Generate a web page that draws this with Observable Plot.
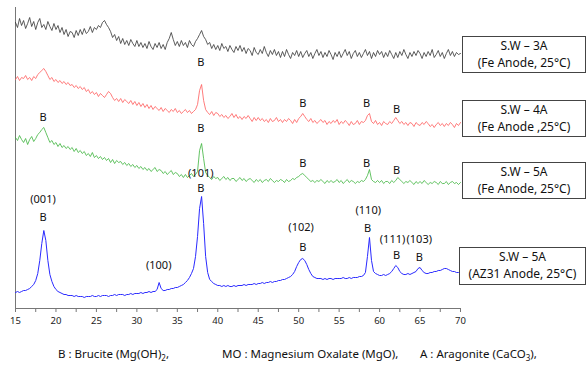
<!DOCTYPE html>
<html><head><meta charset="utf-8">
<script src="https://cdn.jsdelivr.net/npm/d3@7"></script>
<script src="https://cdn.jsdelivr.net/npm/@observablehq/plot@0.6"></script>
<style>
html,body{margin:0;padding:0;background:#fff;}
#wrap{position:relative;width:586px;height:367px;font-family:"Noto Sans",sans-serif;overflow:hidden;}
.lg{position:absolute;border:1px solid #444;box-sizing:border-box;background:#fff;text-align:center;font-size:12px;line-height:16.5px;color:#111;padding-top:1px;}
.cp{position:absolute;top:346px;font-size:11.5px;line-height:16px;color:#111;white-space:nowrap;}
.cp sub{font-size:8px;line-height:0;}
</style></head>
<body><div id="wrap"></div>
<script>
// 2θ grid (degrees)
const twoTheta = d3.range(15, 70.001, 0.25);
// intensities (arbitrary, offset)
const sw3A = [
286,281,290,283, 288,280,285,291, 282,287,279,286, 290,281,284,279, 287,282,278,285,
279,283,276,281, 274,279,272,277, 276,271,278,273, 279,274,280,275, 277,282,276,281,
279,283,281,286, 288,284,281,277, 271,274,268,272, 265,270,264,268, 263,269,265,262,
268,262,266,261, 265,260,267,262, 259,265,261,266, 260,264,259,266, 270,276,269,263,
267,262,268,263, 266,261,268,264, 262,267,270,274, 278,272,269,264, 266,260,264,259,
263,258,265,260, 262,257,263,259, 256,262,258,263, 257,261,255,260, 258,253,261,256,
254,259,255,262, 256,252,258,254, 259,253,257,251, 257,252,259,254, 250,256,253,258,
252,257,251,255, 258,252,256,250, 255,259,253,257, 251,256,252,258, 254,249,256,252,
257,251,255,259, 253,257,250,255, 258,252,256,251, 255,259,253,257, 250,256,252,258,
254,257,251,256, 252,258,254,250, 256,251,257,253, 259,254,250,256, 252,257,253,258,
255,250,256,252, 257,253,259,251, 254,258,252,256, 250,255,259,253, 257,252,256,254,
255];
const sw4A = [
229,232,228,231, 230,233,229,231, 228,232,230,234, 236,238,240,237, 233,229,231,227,
229,226,228,225, 227,224,226,223, 224,221,223,220, 222,219,221,217, 219,215,217,214,
216,212,215,213, 211,214,217,215, 211,208,210,207, 210,206,209,207, 205,208,204,207,
203,206,202,205, 201,204,200,203, 199,202,200,198, 201,197,200,198, 196,199,197,200,
196,198,195,197, 199,196,198,195, 197,199,204,218, 224,208,199,196, 194,197,193,196,
195,192,194,191, 193,190,192,195, 191,194,190,192, 189,192,190,193, 190,187,191,188,
191,188,190,187, 189,186,190,187, 188,191,187,189, 186,189,187,190, 188,185,189,186,
190,192,195,192, 189,187,190,186, 188,185,187,189, 186,188,184,187, 185,188,186,189,
184,187,185,188, 186,183,187,184, 185,188,184,187, 186,188,193,195, 187,185,188,184,
186,183,187,185, 184,187,185,188, 191,188,185,187, 184,186,183,186, 185,182,186,184,
183,186,184,187, 185,182,184,181, 184,186,183,185, 182,185,183,186, 184,181,185,183,
186];
const sw5A = [
171,168,173,169, 166,170,164,169, 172,167,170,174, 176,179,181,176, 171,166,168,164,
166,162,165,161, 163,160,162,159, 161,157,160,156, 158,155,157,153, 155,152,156,151,
153,150,152,149, 151,148,150,146, 149,145,148,146, 147,144,146,143, 145,142,144,141,
143,140,142,139, 141,138,140,137, 139,141,137,139, 138,135,137,134, 136,138,134,136,
135,132,134,131, 134,131,133,135, 132,134,137,158, 165,150,136,133, 131,129,132,130,
131,128,130,132, 129,131,128,130, 130,127,129,131, 128,130,127,129, 130,128,126,129,
127,129,126,128, 129,127,130,128, 126,128,127,129, 128,126,129,127, 128,130,129,131,
132,134,135,133, 131,129,127,128, 126,128,127,129, 127,125,128,126, 128,126,127,129,
126,128,125,127, 129,126,128,127, 125,127,126,128, 127,129,133,139, 129,127,126,128,
126,128,125,127, 127,125,128,126, 128,131,129,127, 125,127,126,128, 126,124,127,125,
127,125,128,126, 124,126,125,127, 126,124,127,125, 125,127,124,126, 127,125,126,124,
126];
const az31 = [
16,17,16,17, 18,18,19,20, 22,24,28,35, 48,65,78,68, 48,34,27,22,
19,17,16,15, 14,14,13,13, 13,12,13,12, 12,12,11,12, 12,12,13,12,
12,13,12,13, 13,13,12,13, 13,14,13,14, 14,14,13,14, 14,15,14,15,
15,15,16,15, 16,16,17,16, 17,17,19,26, 20,18,18,19, 19,20,20,21,
21,22,23,24, 26,28,31,35, 40,52,72,100, 112,85,52,36, 29,27,25,24,
23,23,22,23, 22,23,22,22, 23,22,23,23, 23,24,23,24, 24,24,25,24,
25,25,26,25, 26,26,27,26, 27,27,28,28, 29,29,30,31, 32,34,37,42,
46,49,50,48, 44,39,35,32, 31,30,30,30, 29,30,29,30, 30,29,30,30,
30,30,31,30, 30,31,30,31, 31,31,32,32, 33,36,52,71, 48,37,35,34,
33,33,34,33, 34,35,37,40, 43,41,37,35, 34,34,35,34, 35,36,37,40,
41,38,36,35, 35,36,36,37, 37,38,38,39, 40,40,39,38, 37,37,36,36,
35];
// peak annotations
const labelText = ["B","B","B","B",
  "B","B","B","B","B",
  "(001)","B","(101)","B","(100)","(102)","B","(110)","B","(111)","(103)","B","B"];
const label2T = [37.9,50.5,58.4,62.1,
  18.4,37.9,50.5,58.4,62.1,
  18.4,18.4,37.9,37.9,32.7,50.3,50.5,58.6,58.5,61.6,64.9,62.1,64.9];
const labelI = [246,205,205,199,
  191,180,145,145,138,
  109,91,135,120,43,81,61,98,80,69,69,53,51];
const tickVals = d3.range(15, 70.001, 2.5);
const legendTitle = ["S.W – 3A", "S.W – 4A", "S.W – 5A", "S.W – 5A"];
const legendSub = ["(Fe Anode, 25°C)", "(Fe Anode ,25°C)", "(Fe Anode, 25°C)", "(AZ31 Anode, 25°C)"];
const captionParts = ["B : Brucite (Mg(OH)<sub>2</sub>,", "MO : Magnesium Oxalate (MgO),", "A : Aragonite (CaCO<sub>3</sub>),"];

const xs = (arr)=>twoTheta.map((t,i)=>({t, v: arr[i]}));
const chart = Plot.plot({
  width: 586, height: 340,
  marginLeft: 15, marginRight: 126, marginTop: 7, marginBottom: 32,
  x: {domain: [15, 70], axis: null},
  y: {domain: [0, 301], axis: null},
  style: {fontFamily: '"Noto Sans", sans-serif', background: "#fff"},
  marks: [
    Plot.ruleX([15], {stroke: "#777"}),
    Plot.ruleY([0], {stroke: "#777"}),
    Plot.axisX({ticks: tickVals, tickFormat: d => (d % 5 === 0 ? d : ""), tickSize: 4, stroke: "#777", fill: "#222", fontSize: 9.5, tickPadding: 5, label: null}),
    Plot.line(xs(sw3A), {x: "t", y: "v", stroke: "#333", strokeWidth: 0.8}),
    Plot.line(xs(sw4A), {x: "t", y: "v", stroke: "#ff5a5a", strokeWidth: 0.8}),
    Plot.line(xs(sw5A), {x: "t", y: "v", stroke: "#3cb43c", strokeWidth: 0.8}),
    Plot.line(xs(az31), {x: "t", y: "v", stroke: "#2a2aff", strokeWidth: 1}),
    Plot.text(labelText.map((s,i)=>({s, t: label2T[i], v: labelI[i]})), {x: "t", y: "v", text: "s", fontSize: 11, fill: "#111"})
  ]
});
const wrap = document.getElementById("wrap");
chart.style.position = "absolute"; chart.style.left = "0"; chart.style.top = "0";
wrap.appendChild(chart);
const boxPos = [{left: 462, top: 36, h: 37}, {left: 462, top: 100, h: 37}, {left: 462, top: 162, h: 37}, {left: 459, top: 247, h: 38}];
boxPos.forEach((p, i) => {
  const d = document.createElement("div");
  d.className = "lg";
  d.style.left = p.left + "px"; d.style.top = p.top + "px";
  d.style.width = (586 - p.left) + "px"; d.style.height = p.h + "px";
  d.innerHTML = legendTitle[i] + "<br>" + legendSub[i];
  wrap.appendChild(d);
});
const capLeft = [58, 222, 420];
captionParts.forEach((c, i) => {
  const s = document.createElement("div");
  s.className = "cp";
  s.style.left = capLeft[i] + "px";
  s.innerHTML = c;
  wrap.appendChild(s);
});
</script></body></html>
